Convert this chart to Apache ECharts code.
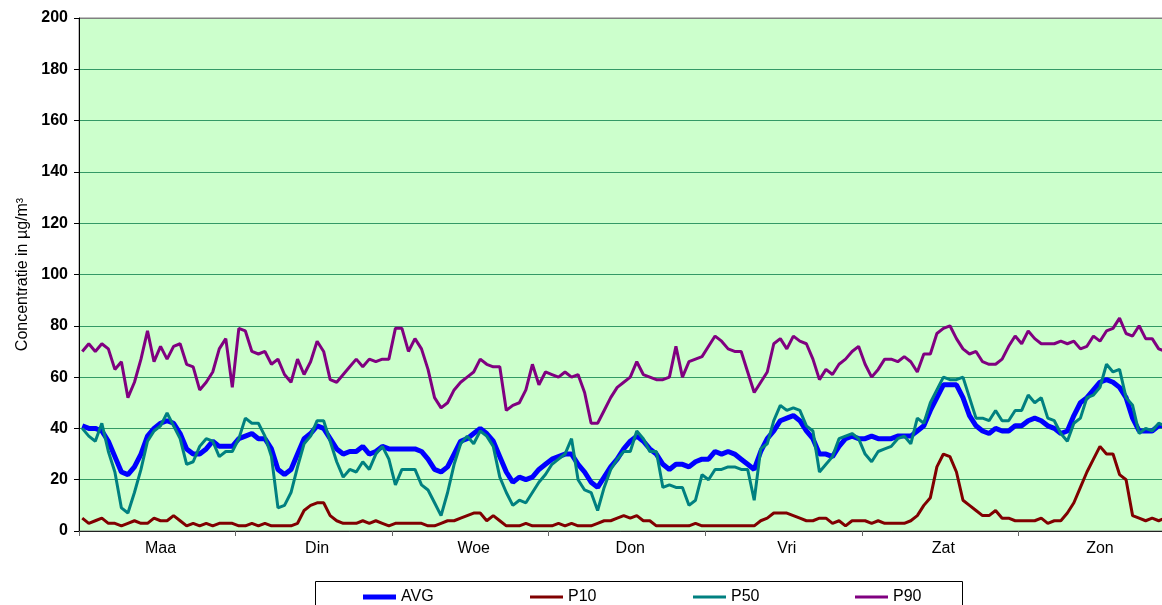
<!DOCTYPE html>
<html>
<head>
<meta charset="utf-8">
<title>Concentratie</title>
<script src="https://cdn.jsdelivr.net/npm/echarts/dist/echarts.min.js"></script>
<style>
  html, body { margin: 0; padding: 0; background: #fff; }
  #chart { width: 1162px; height: 605px; }
</style>
</head>
<body>
<div id="chart"></div>
<script>
// 星期 + 小时 (每天24个点)
var days = ['Maa', 'Din', 'Woe', 'Don', 'Vri', 'Zat', 'Zon'];
var hours = ['0', '1', '2', '3', '4', '5', '6', '7', '8', '9', '10', '11',
  '12', '13', '14', '15', '16', '17', '18', '19', '20', '21', '22', '23'];
var yTicks = [0, 20, 40, 60, 80, 100, 120, 140, 160, 180, 200];

// 每行一天
var avg = [
  41, 40, 40, 39, 35, 29, 23, 22, 25, 30, 37, 40, 42, 43, 42, 38, 32, 30, 30, 32, 35, 33, 33, 33,
  36, 37, 38, 36, 36, 32, 24, 22, 24, 30, 36, 38, 41, 40, 36, 32, 30, 31, 31, 33, 30, 31, 33, 32,
  32, 32, 32, 32, 31, 28, 24, 23, 25, 30, 35, 36, 38, 40, 38, 35, 29, 23, 19, 21, 20, 21, 24, 26,
  28, 29, 30, 30, 26, 23, 19, 17, 21, 25, 28, 32, 35, 37, 35, 32, 30, 26, 24, 26, 26, 25, 27, 28,
  28, 31, 30, 31, 30, 28, 26, 24, 31, 36, 39, 43, 44, 45, 43, 39, 36, 30, 30, 29, 33, 36, 37, 36,
  36, 37, 36, 36, 36, 37, 37, 37, 39, 41, 47, 52, 57, 57, 57, 52, 45, 41, 39, 38, 40, 39, 39, 41,
  41, 43, 44, 43, 41, 40, 38, 39, 45, 50, 52, 55, 58, 59, 58, 56, 52, 44, 39, 39, 39, 41, 41, 42
];
var p10 = [
  5, 3, 4, 5, 3, 3, 2, 3, 4, 3, 3, 5, 4, 4, 6, 4, 2, 3, 2, 3, 2, 3, 3, 3,
  2, 2, 3, 2, 3, 2, 2, 2, 2, 3, 8, 10, 11, 11, 6, 4, 3, 3, 3, 4, 3, 4, 3, 2,
  3, 3, 3, 3, 3, 2, 2, 3, 4, 4, 5, 6, 7, 7, 4, 6, 4, 2, 2, 2, 3, 2, 2, 2,
  2, 3, 2, 3, 2, 2, 2, 3, 4, 4, 5, 6, 5, 6, 4, 4, 2, 2, 2, 2, 2, 2, 3, 2,
  2, 2, 2, 2, 2, 2, 2, 2, 4, 5, 7, 7, 7, 6, 5, 4, 4, 5, 5, 3, 4, 2, 4, 4,
  4, 3, 4, 3, 3, 3, 3, 4, 6, 10, 13, 25, 30, 29, 23, 12, 10, 8, 6, 6, 8, 5, 5, 4,
  4, 4, 4, 5, 3, 4, 4, 7, 11, 17, 23, 28, 33, 30, 30, 22, 20, 6, 5, 4, 5, 4, 5, 5
];
var p50 = [
  40, 37, 35, 42, 31, 23, 9, 7, 15, 24, 35, 39, 41, 46, 41, 36, 26, 27, 33, 36, 35, 29, 31, 31,
  36, 44, 42, 42, 37, 29, 9, 10, 15, 25, 34, 37, 43, 43, 35, 27, 21, 24, 23, 27, 24, 30, 33, 28,
  18, 24, 24, 24, 18, 16, 11, 6, 15, 26, 34, 37, 34, 39, 37, 33, 21, 15, 10, 12, 11, 15, 19, 22,
  26, 28, 30, 36, 20, 16, 15, 8, 17, 24, 28, 31, 31, 39, 36, 31, 31, 17, 18, 17, 17, 10, 12, 22,
  20, 24, 24, 25, 25, 24, 24, 12, 32, 34, 43, 49, 47, 48, 47, 41, 39, 23, 26, 29, 36, 37, 38, 36,
  30, 27, 31, 32, 33, 36, 37, 34, 44, 42, 50, 55, 60, 59, 59, 60, 52, 44, 44, 43, 47, 43, 43, 47,
  47, 53, 50, 52, 44, 43, 38, 35, 42, 44, 52, 53, 56, 65, 62, 63, 52, 49, 38, 40, 39, 42, 41, 42
];
var p90 = [
  70, 73, 70, 73, 71, 63, 66, 52, 58, 67, 78, 66, 72, 67, 72, 73, 65, 64, 55, 58, 62, 71, 75, 56,
  79, 78, 70, 69, 70, 65, 67, 61, 58, 67, 61, 66, 74, 70, 59, 58, 61, 64, 67, 64, 67, 66, 67, 67,
  79, 79, 70, 75, 71, 63, 52, 48, 50, 55, 58, 60, 62, 67, 65, 64, 64, 47, 49, 50, 55, 65, 57, 62,
  61, 60, 62, 60, 61, 54, 42, 42, 47, 52, 56, 58, 60, 66, 61, 60, 59, 59, 60, 72, 60, 66, 67, 68,
  72, 76, 74, 71, 70, 70, 62, 54, 58, 62, 73, 75, 71, 76, 74, 73, 67, 59, 63, 61, 65, 67, 70, 72,
  65, 60, 63, 67, 67, 66, 68, 66, 62, 69, 69, 77, 79, 80, 75, 71, 69, 70, 66, 65, 65, 67, 72, 76,
  73, 78, 75, 73, 73, 73, 74, 73, 74, 71, 72, 76, 74, 78, 79, 83, 77, 76, 80, 75, 75, 71, 70, 71
];

var categories = [];
for (var d = 0; d < days.length; d++) {
  for (var h = 0; h < hours.length; h++) {
    categories.push(days[d] + ' ' + hours[h]);
  }
}

var font = 'Arial, "Liberation Sans", sans-serif';
// 网格线: 最上面一根是灰色
var gridColors = [];
for (var k = 0; k < yTicks.length; k++) {
  gridColors.push(k === yTicks.length - 1 ? '#808080' : '#339966');
}

// 图例: 每个单独放, 线的粗细跟系列一样
function legendItem(name, left, color, thick) {
  return {
    data: [{ name: name, icon: 'rect', itemStyle: { color: color } }],
    left: left,
    top: 589,
    padding: 0,
    itemWidth: 33,
    itemHeight: thick,
    itemGap: 5,
    textStyle: { fontFamily: font, fontSize: 16, color: '#000', lineHeight: 16 },
    selectedMode: false
  };
}

var chartDom = document.getElementById('chart');
var myChart = echarts.init(chartDom, null, { renderer: 'canvas' });
var option = {
  animation: false,
  backgroundColor: '#ffffff',
  textStyle: { fontFamily: font },
  grid: {
    left: 79,
    top: 18,
    width: 1096,
    height: 513,
    outerBoundsMode: 'none',
    containLabel: false,
    show: true,
    backgroundColor: '#CCFFCC',
    borderColor: '#808080',
    borderWidth: 1
  },
  legend: [
    legendItem('AVG', 363, '#0000FF', 5),
    legendItem('P10', 530, '#800000', 3),
    legendItem('P50', 693, '#008080', 3),
    legendItem('P90', 855, '#800080', 3)
  ],
  graphic: [{
    type: 'rect',
    shape: { x: 315.5, y: 581.5, width: 647, height: 60 },
    style: { fill: 'transparent', stroke: '#000', lineWidth: 1 },
    z: 0,
    silent: true
  }],
  xAxis: {
    type: 'category',
    data: categories,
    boundaryGap: true,
    axisLine: { show: true, lineStyle: { color: '#222', width: 1 } },
    axisTick: {
      show: true,
      length: 5,
      interval: function (index) { return index % 24 === 0; },
      lineStyle: { color: '#666' }
    },
    axisLabel: {
      interval: function (index) { return index % 24 === 12; },
      formatter: function (v) { return v.split(' ')[0]; },
      margin: 10,
      fontFamily: font,
      fontSize: 16,
      color: '#000',
      hideOverlap: false
    },
    splitLine: { show: false }
  },
  yAxis: {
    type: 'value',
    min: yTicks[0],
    max: yTicks[yTicks.length - 1],
    interval: 20,
    name: 'Concentratie in µg/m³',
    nameLocation: 'middle',
    nameRotate: 90,
    nameGap: 47,
    nameTextStyle: { fontFamily: font, fontSize: 16, color: '#000' },
    axisLine: { show: true, lineStyle: { color: '#000', width: 1 } },
    axisTick: { show: true, inside: false, length: 5, lineStyle: { color: '#000' } },
    axisLabel: { fontFamily: font, fontSize: 16, fontWeight: 'bold', color: '#000', margin: 11 },
    splitLine: { show: true, lineStyle: { color: gridColors, width: 1 } }
  },
  series: [
    { name: 'AVG', type: 'line', data: avg, symbol: 'none', lineStyle: { color: '#0000FF', width: 5 }, itemStyle: { color: '#0000FF' } },
    { name: 'P10', type: 'line', data: p10, symbol: 'none', lineStyle: { color: '#800000', width: 3 }, itemStyle: { color: '#800000' } },
    { name: 'P50', type: 'line', data: p50, symbol: 'none', lineStyle: { color: '#008080', width: 3 }, itemStyle: { color: '#008080' } },
    { name: 'P90', type: 'line', data: p90, symbol: 'none', lineStyle: { color: '#800080', width: 3 }, itemStyle: { color: '#800080' } }
  ]
};
option && myChart.setOption(option);
</script>
</body>
</html>
